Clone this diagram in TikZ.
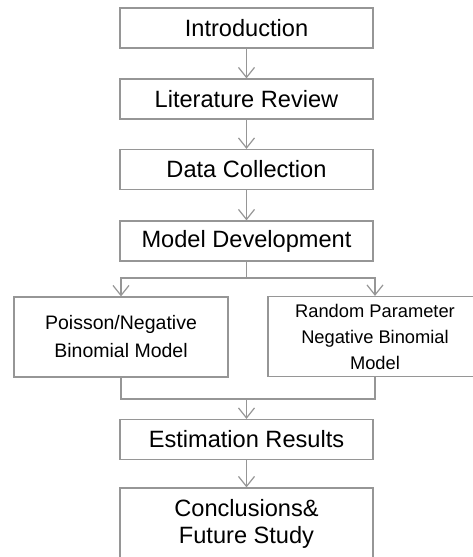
\documentclass[tikz,border=0pt]{standalone}
\usepackage{fontspec}
\setmainfont{Liberation Sans}
\usepackage{xcolor}
\definecolor{framegray}{RGB}{150,150,150}
\usepackage{tikz}
\usetikzlibrary{arrows.meta, positioning}

\begin{document}
\begin{tikzpicture}[x=1pt, y=1pt,
  stage/.style={rectangle, draw=framegray, line width=1.2pt, fill=white, minimum width=253pt, minimum height=40pt, align=center, inner sep=0pt, font=\fontsize{23.6}{27}\selectfont},
  branch/.style={rectangle, draw=framegray, line width=1.2pt, fill=white, minimum width=214pt, minimum height=80pt, align=center, inner sep=0pt},
  flow/.style={-{Straight Barb[length=10pt, width=16pt]}, line width=1.2pt, draw=framegray},
  link/.style={line width=1.2pt, draw=framegray}
]
\useasboundingbox (0,0) rectangle (472,-557);

% Main stages
\node[stage] (intro) at (246.5, -28) {Introduction};
\node[stage] (lit) at (246.5, -99) {Literature Review};
\node[stage] (data) at (246.5, -169.5) {Data Collection};
\node[stage] (model) at (246.5, -241) {Model Development};

% Models
\node[branch, font=\fontsize{19.5}{28}\selectfont] (pois) at (121, -337) {Poisson/Negative\\Binomial Model};
\node[branch, font=\fontsize{18.3}{26}\selectfont] (rpnb) at (375, -336.5) {Random Parameter\\Negative Binomial\\Model};

% Results
\node[stage] (est) at (246.5, -439.5) {Estimation Results};
\node[stage, minimum height=72pt] (concl) at (246.5, -524) {Conclusions\&\\Future Study};

% Flows
\draw[flow] (intro) -- (lit);
\draw[flow] (lit) -- (data);
\draw[flow] (data) -- (model);

\coordinate (split) at (246.5, -278);
\draw[link] (model.south) -- (split);
\draw[flow] (split) -| (pois.north);
\draw[flow] (split) -| (rpnb.north);

\coordinate (join) at (246.5, -399);
\draw[link] (pois.south) |- (join) -| (rpnb.south);
\draw[flow] (join) -- (est.north);
\draw[flow] (est) -- (concl);

\end{tikzpicture}
\end{document}
